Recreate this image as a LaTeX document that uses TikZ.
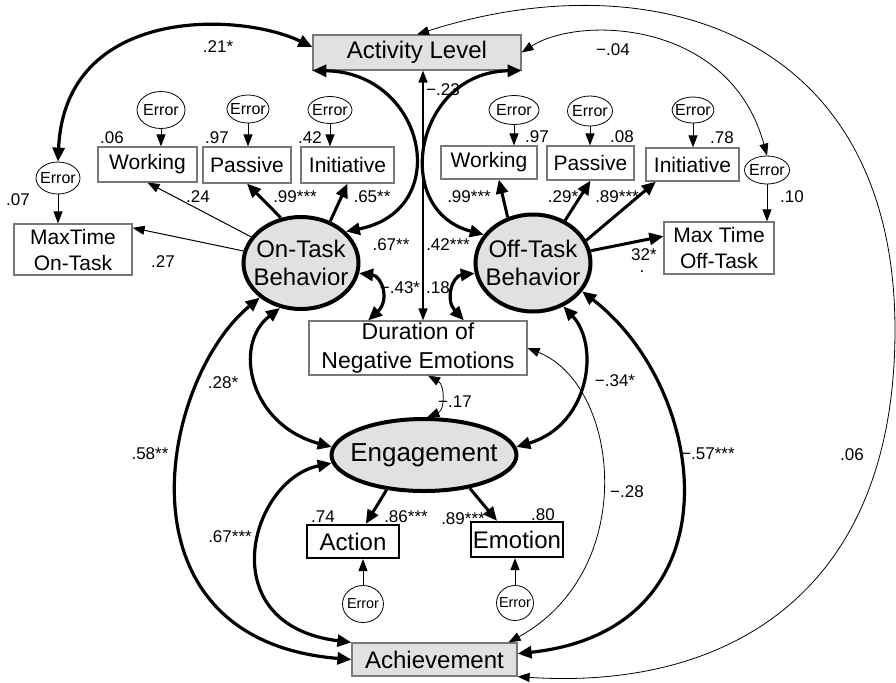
\documentclass[tikz,border=0pt]{standalone}
\usepackage{fontspec}
\setmainfont{Liberation Sans}
\usepackage{tikz}
\usetikzlibrary{shapes,arrows.meta,calc}
\definecolor{latgray}{RGB}{224,225,227}
\definecolor{boxline}{RGB}{120,120,120}
\tikzset{
    latent/.style ={ellipse, draw, line width=2pt, fill=latgray, inner xsep=-6pt, inner ysep=0pt, align=center, font=\fontsize{12}{14}\selectfont},
    ind/.style ={rectangle, draw=boxline, line width=0.6pt, inner sep=0pt, align=center, font=\fontsize{10.5}{13}\selectfont},
    outc/.style ={rectangle, draw=boxline, line width=0.6pt, fill=latgray, inner sep=0pt, font=\fontsize{12}{14}\selectfont},
    engbox/.style ={rectangle, draw, line width=1.1pt, inner sep=0pt, font=\fontsize{12}{14}\selectfont},
    err/.style ={ellipse, draw, line width=0.4pt, inner xsep=-1.5pt, inner ysep=0pt, minimum width=22pt, minimum height=14pt, font=\fontsize{8}{9}\selectfont},
    coef/.style ={inner sep=0pt, font=\fontsize{8.5}{10}\selectfont},
    load/.style ={-{Triangle[length=7pt,width=6pt]}, line width=1.5pt},
    thinload/.style ={-{Triangle[length=6pt,width=4.5pt]}, line width=0.5pt},
    cov/.style ={{Triangle[length=7pt,width=6pt]}-{Triangle[length=7pt,width=6pt]}, line width=1.6pt},
    midcov/.style ={{Triangle[length=6pt,width=4.5pt]}-{Triangle[length=6pt,width=4.5pt]}, line width=0.8pt},
    thincov/.style ={{Triangle[length=6pt,width=4.5pt]}-{Triangle[length=6pt,width=4.5pt]}, line width=0.4pt}
}
\begin{document}
\begin{tikzpicture}[x=0.5pt,y=-0.5pt]
	\useasboundingbox (0,0) rectangle (896,682);
	% latent variables
	\node[latent, minimum width=57.5pt, minimum height=46pt] (ot) at (301,263) {On-Task\\Behavior};
	\node[latent, minimum width=57.5pt, minimum height=48.5pt] (ft) at (533,263) {Off-Task\\Behavior};
	\node[latent, minimum width=92.5pt, minimum height=36pt, font=\fontsize{13}{15}\selectfont] (eng) at (424,455) {Engagement};
	% outcomes
	\node[outc, minimum width=104pt, minimum height=17.5pt] (act) at (417,52.5) {Activity Level};
	\node[outc, minimum width=82.5pt, minimum height=16.5pt] (ach) at (434.5,659.5) {Achievement};
	\node[ind, minimum width=109pt, minimum height=27pt, font=\fontsize{11.5}{14.5}\selectfont] (dur) at (418,348) {Duration of\\Negative Emotions};
	% indicators
	\node[ind, minimum width=49.5pt, minimum height=17.5pt] (wk1) at (147.5,164.5) {Working};
	\node[ind, minimum width=44pt, minimum height=18pt] (ps1) at (247,165) {Passive};
	\node[ind, minimum width=46.5pt, minimum height=18pt] (in1) at (347.5,165) {Initiative};
	\node[ind, minimum width=59pt, minimum height=25.5pt] (mx1) at (73,249.5) {MaxTime\\On-Task};
	\node[ind, minimum width=48pt, minimum height=16.5pt] (wk2) at (489,162.5) {Working};
	\node[ind, minimum width=43.5pt, minimum height=17pt] (ps2) at (590.5,163) {Passive};
	\node[ind, minimum width=46.5pt, minimum height=16.5pt] (in2) at (692.5,164.5) {Initiative};
	\node[ind, minimum width=55pt, minimum height=26pt] (mx2) at (719,248) {Max Time\\Off-Task};
	\node[engbox, minimum width=46pt, minimum height=16.5pt] (act2) at (353,541.5) {Action};
	\node[engbox, minimum width=46pt, minimum height=17.5pt] (emo) at (517,539.5) {Emotion};
	% error terms
	\node[err, minimum height=16pt] (emx1) at (58,178) {Error};
	\node[err, minimum width=24pt, minimum height=18.5pt] (ewk1) at (161,110) {Error};
	\node[err, minimum width=21pt] (eps1) at (248,109) {Error};
	\node[err, minimum height=13.5pt] (ein1) at (330,110) {Error};
	\node[err, minimum width=25pt, minimum height=14.5pt] (ewk2) at (514,110) {Error};
	\node[err, minimum width=22.5pt, minimum height=15pt] (eps2) at (590,111) {Error};
	\node[err, minimum width=20pt, minimum height=13pt] (ein2) at (693,110) {Error};
	\node[err, minimum width=22.5pt] (emx2) at (767,170) {Error};
	\node[err, minimum width=20.5pt, minimum height=18.5pt, font=\fontsize{7.2}{8}\selectfont] (eact) at (363,604) {Error};
	\node[err, minimum width=18.5pt, minimum height=17.5pt, font=\fontsize{7.2}{8}\selectfont] (eemo) at (515,603) {Error};

	% error paths
	\draw[thinload] (emx1) -- (emx1 |- mx1.north);
	\draw[thinload] (ewk1) -- (ewk1 |- wk1.north);
	\draw[thinload] (eps1) -- (eps1 |- ps1.north);
	\draw[thinload] (ein1) -- (ein1 |- in1.north);
	\draw[thinload] (ewk2) -- (ewk2 |- wk2.north);
	\draw[thinload] (eps2) -- (eps2 |- ps2.north);
	\draw[thinload] (ein2) -- (ein2 |- in2.north);
	\draw[thinload] (emx2) -- (emx2 |- mx2.north);
	\draw[thinload] (eact) -- (eact |- act2.south);
	\draw[thinload] (eemo) -- (eemo |- emo.south);

	% loadings
	\draw[thinload] (ot) -- (wk1.south);
	\draw[thinload] (ot) -- (mx1.20);
	\draw[load] (ot.114) -- (ps1.south);
	\draw[load] (ot.55) -- (in1.south);
	\draw[load] (ft.119) -- (wk2.-60);
	\draw[load] (ft.53) -- (ps2.south);
	\draw[load] (ft.23) -- (in2.-155);
	\draw[load] (ft.12) -- (mx2.168);
	\draw[load] (eng.-137) -- (act2.54);
	\draw[load] (eng.-36) -- (emo.137);

	% correlations
	\draw[cov] (act.177) .. controls (240,12) and (65,5) .. (emx1.north);
	\draw[cov] (act.south west) .. controls (425,72) and (455,210) .. (ot.35);
	\draw[cov] (act.south east) .. controls (415,72) and (390,210) .. (ft.150);
	\coordinate (vtop) at ($(act.south)+(6,0)$);
	\draw[midcov] (vtop) -- (vtop |- dur.north);
	\draw[cov] (ot.-10) .. controls (382,276) and (390,300) .. (dur.151);
	\draw[cov] (ft.190) .. controls (452,276) and (445,300) .. (dur.31);
	\draw[cov] (ot.-115) .. controls (232,345) and (250,425) .. (eng.175);
	\draw[cov] (ft.-55) .. controls (600,345) and (590,425) .. (eng.5);
	\draw[cov] (ot.-140) .. controls (160,380) and (110,640) .. (ach.west);
	\draw[cov] (eng.185) .. controls (250,480) and (210,625) .. (ach.north west);
	\draw[cov] (ft.-30) .. controls (710,390) and (740,630) .. (ach.4);
	\draw[thincov] (dur.east) .. controls (620,385) and (640,570) .. (ach.13);
	\draw[thincov] (dur.-70) .. controls (445,385) and (445,410) .. (eng.85);
	\draw[thincov] (act.east) .. controls (580,15) and (730,20) .. (emx2.north);
	\draw[thincov] (act.north) .. controls (650,-40) and (895,30) .. (895,330)
		.. controls (895,600) and (720,690) .. (ach.south east);

	% coefficients
	\node[coef] (l21) at (218,47) {.21*};
	\node[coef] (l04) at (613,50) {−.04};
	\node[coef] (l23) at (443,90) {−.23};
	\node[coef] (r06) at (112,138) {.06};
	\node[coef] (r97a) at (217,138) {.97};
	\node[coef] (r42) at (310,138) {.42};
	\node[coef] (r97b) at (537,137) {.97};
	\node[coef] (r08) at (622,137) {.08};
	\node[coef] (r78) at (722,138) {.78};
	\node[coef] (r07) at (18,200) {.07};
	\node[coef] (r10) at (792,197) {.10};
	\node[coef] (l24) at (198,197) {.24};
	\node[coef] (l99a) at (295,197) {.99***};
	\node[coef] (l65) at (372,197) {.65**};
	\node[coef] (l99b) at (469,197) {.99***};
	\node[coef] (l29) at (563,197) {.29*};
	\node[coef] (l89a) at (617,197) {.89***};
	\node[coef] (l27) at (163,262) {.27};
	\node[coef] (l67a) at (391,245) {.67**};
	\node[coef] (l42) at (448,245) {.42***};
	\node[coef] (l32) at (644,255) {32*};
	\node[coef] (l32d) at (642,272) {.};
	\node[coef] (l43) at (400,288) {−.43*};
	\node[coef] (l18) at (438,288) {.18};
	\node[coef] (l28a) at (223,383) {.28*};
	\node[coef] (l34) at (615,381) {−.34*};
	\node[coef] (l17) at (455,402) {−.17};
	\node[coef] (l58) at (150,454) {.58**};
	\node[coef] (l57) at (708,454) {−.57***};
	\node[coef] (l06) at (852,455) {.06};
	\node[coef] (l28b) at (627,492) {−.28};
	\node[coef] (l67b) at (230,537) {.67***};
	\node[coef] (r74) at (323,517) {.74};
	\node[coef] (l86) at (406,517) {.86***};
	\node[coef] (l89b) at (463,519) {.89***};
	\node[coef] (r80) at (543,515) {.80};
\end{tikzpicture}
\end{document}
